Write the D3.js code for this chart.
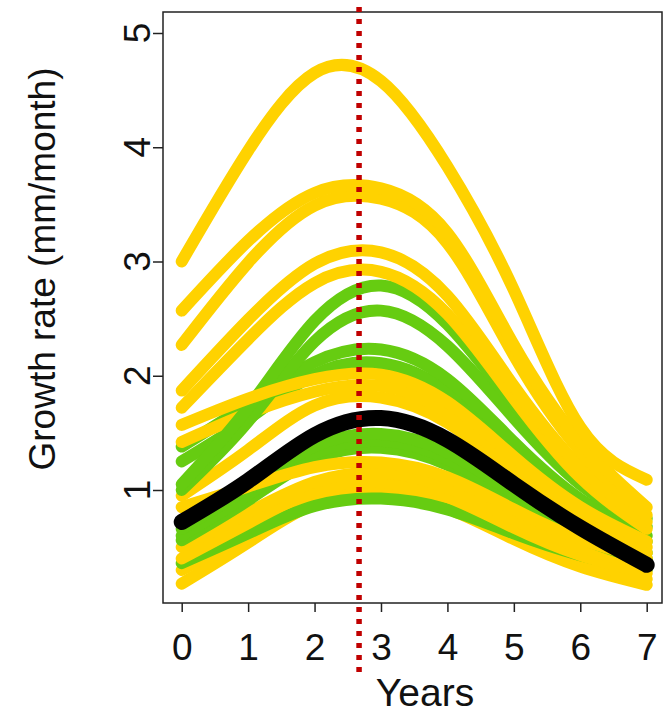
<!DOCTYPE html>
<html>
<head>
<meta charset="utf-8">
<script src="https://cdn.jsdelivr.net/npm/d3@7"></script>
<style>
html,body{margin:0;padding:0;background:#fff;}
svg{display:block;}
text{font-family:"Liberation Sans",Arial,sans-serif;fill:#111;}
</style>
</head>
<body>
<svg id="chart" width="664" height="717"></svg>
<script>
// ---- data ----
const years = [0, 1, 2, 3, 4, 5, 6, 7];
const xTicks = [0, 1, 2, 3, 4, 5, 6, 7];
const yTicks = [1, 2, 3, 4, 5];
const markerYear = 2.67;

// yellow individual curves (growth rate at years 0..7)
const yellowCurves = [
  [3.00, 3.97, 4.65, 4.58, 3.83, 2.75, 1.55, 1.09],
  [2.57, 3.18, 3.60, 3.64, 3.25, 2.27, 1.42, 0.85],
  [2.27, 2.99, 3.49, 3.55, 3.16, 2.18, 1.34, 0.78],
  [1.87, 2.49, 2.98, 3.08, 2.70, 1.91, 1.20, 0.72],
  [1.72, 2.32, 2.81, 2.91, 2.54, 1.80, 1.11, 0.66],
  [1.57, 1.80, 1.97, 2.01, 1.77, 1.29, 0.85, 0.55],
  [1.42, 1.67, 1.86, 1.91, 1.68, 1.21, 0.78, 0.50],
  [0.95, 1.35, 1.74, 1.81, 1.59, 1.14, 0.72, 0.45],
  [0.85, 1.03, 1.20, 1.24, 1.11, 0.83, 0.57, 0.40],
  [0.50, 0.80, 1.07, 1.15, 1.02, 0.74, 0.50, 0.33],
  [0.40, 0.71, 0.99, 1.07, 0.94, 0.67, 0.43, 0.27],
  [0.30, 0.62, 0.93, 1.01, 0.88, 0.62, 0.38, 0.22],
  [0.18, 0.54, 0.88, 0.97, 0.84, 0.57, 0.33, 0.17]
];

// green individual curves
const greenCurves = [
  [1.05, 1.72, 2.48, 2.79, 2.45, 1.75, 1.14, 0.75],
  [1.00, 1.60, 2.30, 2.57, 2.26, 1.63, 1.05, 0.68],
  [1.38, 1.75, 2.12, 2.23, 1.97, 1.42, 0.92, 0.60],
  [1.25, 1.62, 2.01, 2.11, 1.86, 1.33, 0.86, 0.55],
  [0.66, 1.02, 1.38, 1.49, 1.33, 0.97, 0.66, 0.45],
  [0.60, 0.96, 1.32, 1.43, 1.27, 0.92, 0.62, 0.40],
  [0.56, 0.91, 1.27, 1.37, 1.22, 0.88, 0.58, 0.38],
  [0.36, 0.62, 0.86, 0.925, 0.83, 0.62, 0.43, 0.30]
];

// mean curve
const meanCurve = [0.72, 1.08, 1.48, 1.63, 1.44, 1.05, 0.67, 0.345];

// drawing order (interleaved as in the original plot)
const drawOrder = [
  ["y", 12], ["y", 11], ["g", 7], ["y", 10], ["y", 9], ["g", 6], ["g", 5], ["g", 4],
  ["y", 8], ["g", 3], ["g", 2], ["y", 7], ["y", 6], ["g", 1], ["g", 0],
  ["y", 5], ["y", 4], ["y", 3], ["y", 2], ["y", 1], ["y", 0]
];

// ---- layout ----
const svg = d3.select("#chart");
const box = {left: 163, right: 662, top: 12, bottom: 603};
const x = d3.scaleLinear().domain([0, 7]).range([181.7, 646.7]);
const y = d3.scaleLinear().domain([1, 5]).range([490, 33]);

const YELLOW = "#FFD200", GREEN = "#66CC11";

const line = d3.line()
  .x((d, i) => x(years[i]))
  .y(d => y(d))
  .curve(d3.curveNatural);

const curvesG = svg.append("g");
drawOrder.forEach(([c, i]) => {
  const data = c === "y" ? yellowCurves[i] : greenCurves[i];
  curvesG.append("path")
    .attr("d", line(data))
    .attr("fill", "none")
    .attr("stroke", c === "y" ? YELLOW : GREEN)
    .attr("stroke-width", 12)
    .attr("stroke-linecap", "round")
    .attr("stroke-linejoin", "round");
});

svg.append("path")
  .attr("d", line(meanCurve))
  .attr("fill", "none")
  .attr("stroke", "#000")
  .attr("stroke-width", 16)
  .attr("stroke-linecap", "round");

// box
svg.append("rect")
  .attr("x", box.left).attr("y", box.top)
  .attr("width", box.right - box.left).attr("height", box.bottom - box.top)
  .attr("fill", "none").attr("stroke", "#222").attr("stroke-width", 1.5);

// x axis
const xAxis = d3.axisBottom(x).tickValues(xTicks).tickSize(9).tickPadding(22).tickFormat(d3.format("d"));
const gx = svg.append("g").attr("transform", `translate(0,${box.bottom})`).call(xAxis);
gx.select(".domain").remove();
gx.selectAll(".tick line").attr("stroke", "#222").attr("stroke-width", 1.5);
gx.selectAll(".tick text").attr("font-size", 37).attr("fill", "#111")
  .attr("font-family", "Liberation Sans, Arial, sans-serif").attr("dy", "0.71em");

// y axis
const yAxis = d3.axisLeft(y).tickValues(yTicks).tickSize(10).tickFormat(d3.format("d"));
const gy = svg.append("g").attr("transform", `translate(${box.left},0)`).call(yAxis);
gy.select(".domain").remove();
gy.selectAll(".tick line").attr("stroke", "#222").attr("stroke-width", 1.5);
gy.selectAll(".tick text").remove();
yTicks.forEach(v => {
  svg.append("text")
    .attr("transform", `translate(150,${y(v)}) rotate(-90)`)
    .attr("text-anchor", "middle")
    .attr("font-size", 37)
    .text(v);
});

// axis titles
svg.append("text")
  .attr("x", 425).attr("y", 706)
  .attr("text-anchor", "middle").attr("font-size", 39)
  .text("Years");
svg.append("text")
  .attr("transform", "translate(55,269) rotate(-90)")
  .attr("text-anchor", "middle").attr("font-size", 37)
  .text("Growth rate (mm/month)");

// marker line
svg.append("line")
  .attr("x1", x(markerYear)).attr("x2", x(markerYear))
  .attr("y1", 7).attr("y2", 672)
  .attr("stroke", "#C00000").attr("stroke-width", 5.5)
  .attr("stroke-dasharray", "5,7");
</script>
</body>
</html>
